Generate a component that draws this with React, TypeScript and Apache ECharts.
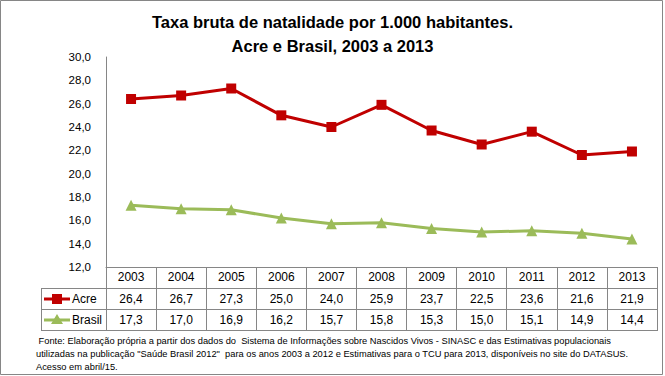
import React, { useEffect, useRef } from "react";
import * as echarts from "echarts";

const years = ["2003", "2004", "2005", "2006", "2007", "2008", "2009", "2010", "2011", "2012", "2013"];
const acre = [26.4, 26.7, 27.3, 25.0, 24.0, 25.9, 23.7, 22.5, 23.6, 21.6, 21.9];
const brasil = [17.3, 17.0, 16.9, 16.2, 15.7, 15.8, 15.3, 15.0, 15.1, 14.9, 14.4];
const seriesNames = ["Acre", "Brasil"];
const titleLines = ["Taxa bruta de natalidade por 1.000 habitantes.", "Acre e Brasil, 2003 a 2013"];
const footnoteLines = [
  " Fonte: Elaboração própria a partir dos dados do  Sistema de Informações sobre Nascidos Vivos - SINASC e das Estimativas populacionais",
  "utilizadas na publicação \"Saúde Brasil 2012\"  para os anos 2003 a 2012 e Estimativas para o TCU para 2013, disponíveis no site do DATASUS.",
  "Acesso em abril/15.",
];

const FONT = "Liberation Sans, Arial, sans-serif";
const RED = "#C00000";
const GREEN = "#9BBB59";
const GRAY = "#868686";

const W = 665;
const H = 376;
const GL = 106;
const GR = 8;
const GT = 57;
const GB = 109;

const fmt = (v: number) => v.toFixed(1).replace(".", ",");

export default function App() {
  const ref = useRef<HTMLDivElement>(null);
  useEffect(() => {
    if (!ref.current) return;
    const chart = echarts.init(ref.current, undefined, { renderer: "svg" });
    const plotW = W - GL - GR;
    const colW = plotW / years.length;
    const axisY = H - GB;
    const rowH = 21;
    const row1 = axisY + rowH;
    const row2 = row1 + rowH;
    const row3 = row2 + rowH;
    const tableLeft = 41;
    const tableRight = W - GR;

    const graphic: any[] = [];
    graphic.push({
      type: "rect",
      shape: { x: 0.5, y: 0.5, width: W - 3, height: H - 2 },
      style: { fill: "none", stroke: GRAY, lineWidth: 1 },
      silent: true,
    });
    titleLines.forEach((t, i) => {
      graphic.push({
        type: "text",
        x: W / 2,
        y: 22 + i * 24,
        style: {
          text: t,
          fontFamily: FONT,
          fontSize: 16.5,
          fontWeight: "bold",
          fill: "#000",
          textAlign: "center",
          textVerticalAlign: "middle",
        },
      });
    });
    [row1, row2, row3].forEach((y) => {
      graphic.push({
        type: "line",
        shape: { x1: tableLeft, y1: y + 0.5, x2: tableRight, y2: y + 0.5 },
        style: { stroke: GRAY, lineWidth: 1 },
      });
    });
    graphic.push({
      type: "line",
      shape: { x1: tableLeft + 0.5, y1: row1, x2: tableLeft + 0.5, y2: row3 + 1 },
      style: { stroke: GRAY, lineWidth: 1 },
    });
    const rows = [acre, brasil];
    rows.forEach((vals, r) => {
      const cy = row1 + rowH * r + rowH / 2 + 0.5;
      vals.forEach((v, i) => {
        graphic.push({
          type: "text",
          x: GL + colW * (i + 0.5),
          y: cy,
          style: {
            text: fmt(v),
            fontFamily: FONT,
            fontSize: 12,
            fill: "#000",
            textAlign: "center",
            textVerticalAlign: "middle",
          },
        });
      });
      const color = r === 0 ? RED : GREEN;
      graphic.push({
        type: "line",
        shape: { x1: 44, y1: cy, x2: 70, y2: cy },
        style: { stroke: color, lineWidth: 3 },
      });
      if (r === 0) {
        graphic.push({
          type: "rect",
          shape: { x: 52, y: cy - 5, width: 10, height: 10 },
          style: { fill: color },
        });
      } else {
        graphic.push({
          type: "polygon",
          shape: { points: [[57, cy - 6], [51, cy + 4], [63, cy + 4]] },
          style: { fill: color },
        });
      }
      graphic.push({
        type: "text",
        x: 72,
        y: cy,
        style: {
          text: seriesNames[r],
          fontFamily: FONT,
          fontSize: 12,
          fill: "#000",
          textAlign: "left",
          textVerticalAlign: "middle",
        },
      });
    });
    footnoteLines.forEach((t, i) => {
      graphic.push({
        type: "text",
        x: 36,
        y: 341 + i * 13,
        style: {
          text: t,
          fontFamily: FONT,
          fontSize: 9.3,
          fill: "#000",
          textAlign: "left",
          textVerticalAlign: "middle",
        },
      });
    });

    chart.setOption({
      animation: false,
      backgroundColor: "#fff",
      grid: { left: GL, right: GR, top: GT, bottom: GB, containLabel: false },
      xAxis: {
        type: "category",
        data: years,
        boundaryGap: true,
        axisLine: { show: true, lineStyle: { color: GRAY, width: 1 } },
        axisTick: { show: true, interval: 0, length: rowH * 3 + 1, lineStyle: { color: GRAY, width: 1 } },
        axisLabel: { show: true, interval: 0, margin: 4, fontFamily: FONT, fontSize: 12, color: "#000" },
        splitLine: { show: false },
      },
      yAxis: {
        type: "value",
        min: 12,
        max: 30,
        interval: 2,
        axisLine: { show: true, lineStyle: { color: GRAY, width: 1 } },
        axisTick: { show: false },
        splitLine: { show: false },
        axisLabel: {
          margin: 15,
          fontFamily: FONT,
          fontSize: 11.5,
          color: "#000",
          formatter: (v: number) => fmt(v),
        },
      },
      series: [
        {
          name: seriesNames[0],
          type: "line",
          data: acre,
          symbol: "rect",
          symbolSize: 10,
          itemStyle: { color: RED },
          lineStyle: { color: RED, width: 3 },
        },
        {
          name: seriesNames[1],
          type: "line",
          data: brasil,
          symbol: "triangle",
          symbolSize: 11,
          itemStyle: { color: GREEN },
          lineStyle: { color: GREEN, width: 3 },
        },
      ],
      graphic,
    });
    return () => chart.dispose();
  }, []);
  return (
    <div
      ref={ref}
      style={{ position: "fixed", left: 0, top: 0, width: W, height: H, background: "#fff" }}
    />
  );
}
